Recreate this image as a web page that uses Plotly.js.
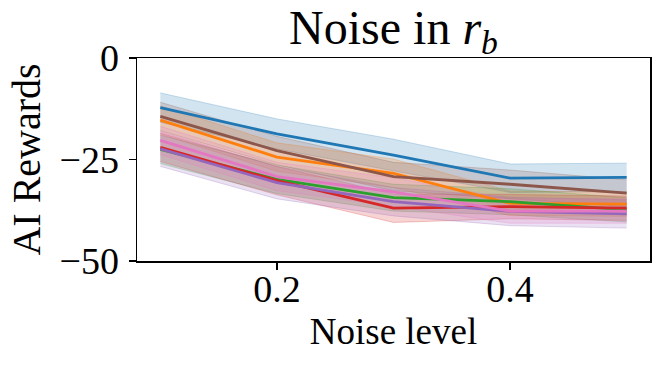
<!DOCTYPE html>
<html>
<head>
<meta charset="utf-8">
<script src="https://cdn.plot.ly/plotly-3.0.1.min.js"></script>
<style>
  html, body {margin: 0; padding: 0; background: white;}
  #useGraph {width: 664px; height: 367px;}
</style>
</head>
<body>
<div id="useGraph"></div>
<script>
// noise levels on the x axis
const noiseLevels = [0.1, 0.2, 0.3, 0.4, 0.5];

// mean reward per run
const blueMean   = [-12.2, -18.7, -23.9, -29.6, -29.4];
const orangeMean = [-15.3, -24.4, -28.4, -35.8, -36.0];
const greenMean  = [-22.5, -29.9, -34.4, -35.4, -37.4];
const redMean    = [-22.0, -30.2, -37.0, -36.6, -37.0];
const purpleMean = [-22.4, -30.7, -35.4, -37.8, -38.4];
const brownMean  = [-14.4, -22.8, -29.2, -31.1, -33.3];
const pinkMean   = [-20.3, -29.2, -33.0, -37.7, -37.7];

// half width of the shaded bands
const blueSpread   = [3.6, 3.7, 3.9, 3.5, 3.5];
const orangeSpread = [3.5, 3.5, 3.5, 3.0, 3.0];
const greenSpread  = [3.5, 3.5, 3.3, 3.2, 3.0];
const redSpread    = [3.5, 3.5, 3.5, 3.0, 3.0];
const purpleSpread = [4.3, 4.0, 3.5, 3.5, 3.5];
const brownSpread  = [3.5, 3.5, 3.5, 3.5, 3.3];
const pinkSpread   = [3.5, 3.5, 3.5, 3.0, 3.0];

const yTickVals = [-50, -25, 0];
const yTickText = ['\u221250', '\u221225', '0'];
const xTickVals = [0.2, 0.4];
const xTickText = ['0.2', '0.4'];

const series = [
  {mean: blueMean,   spread: blueSpread,   rgb: '31,119,180'},
  {mean: orangeMean, spread: orangeSpread, rgb: '255,127,14'},
  {mean: greenMean,  spread: greenSpread,  rgb: '44,160,44'},
  {mean: redMean,    spread: redSpread,    rgb: '214,39,40'},
  {mean: purpleMean, spread: purpleSpread, rgb: '148,103,189'},
  {mean: brownMean,  spread: brownSpread,  rgb: '140,86,75'},
  {mean: pinkMean,   spread: pinkSpread,   rgb: '227,119,194'}
];

// shaded bands first, so the mean lines stay on top
const traces = [];
series.forEach(function (s) {
  const lower = s.mean.map(function (m, i) { return m - s.spread[i]; });
  const upper = s.mean.map(function (m, i) { return m + s.spread[i]; });
  traces.push({
    type: 'scatter', mode: 'lines', x: noiseLevels, y: lower,
    line: {color: 'rgba(' + s.rgb + ',0.25)', width: 1},
    showlegend: false, hoverinfo: 'skip'
  });
  traces.push({
    type: 'scatter', mode: 'lines', x: noiseLevels, y: upper,
    fill: 'tonexty', fillcolor: 'rgba(' + s.rgb + ',0.2)',
    line: {color: 'rgba(' + s.rgb + ',0.25)', width: 1},
    showlegend: false, hoverinfo: 'skip'
  });
});
series.forEach(function (s) {
  traces.push({
    type: 'scatter', mode: 'lines', x: noiseLevels, y: s.mean,
    line: {color: 'rgb(' + s.rgb + ')', width: 2.8},
    showlegend: false
  });
});

const serif = '"Liberation Serif", "DejaVu Serif", serif';

const layout = {
  width: 664,
  height: 367,
  margin: {l: 137, r: 14, t: 58, b: 106, pad: 0},
  paper_bgcolor: 'white',
  plot_bgcolor: 'white',
  font: {family: serif, color: 'black', size: 38},
  showlegend: false,
  title: {
    text: 'Noise in <i>r</i><sub><i>b</i></sub>',
    font: {family: serif, size: 48, color: 'black'},
    x: 0.5, xref: 'paper', xanchor: 'center',
    y: 0.925, yref: 'container', yanchor: 'middle'
  },
  xaxis: {
    range: [0.08, 0.52],
    tickvals: xTickVals,
    ticktext: xTickText,
    ticks: 'outside', ticklen: 7, tickwidth: 1.5, tickcolor: 'black',
    ticklabelstandoff: -13,
    showline: true, mirror: true, linecolor: 'black', linewidth: 1.5,
    showgrid: false, zeroline: false, automargin: false,
    tickfont: {family: serif, size: 38},
    title: {text: 'Noise level', font: {family: serif, size: 37}, standoff: 9}
  },
  yaxis: {
    range: [-50, 0],
    tickvals: yTickVals,
    ticktext: yTickText,
    ticks: 'outside', ticklen: 7, tickwidth: 1.5, tickcolor: 'black',
    ticklabelstandoff: 2,
    showline: true, mirror: true, linecolor: 'black', linewidth: 1.5,
    showgrid: false, zeroline: false, automargin: false,
    tickfont: {family: serif, size: 38},
    title: {text: 'AI Rewards', font: {family: serif, size: 40}, standoff: 6}
  }
};

Plotly.newPlot('useGraph', traces, layout, {staticPlot: true});
</script>
</body>
</html>
